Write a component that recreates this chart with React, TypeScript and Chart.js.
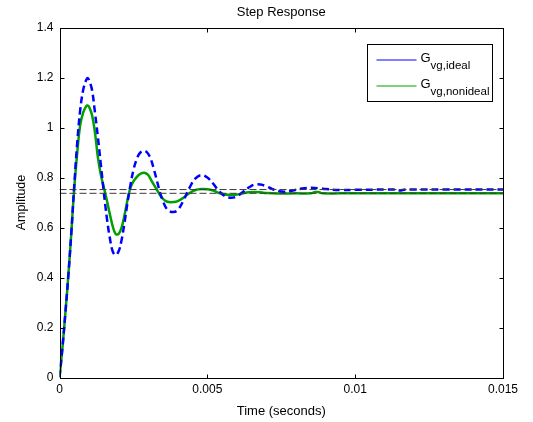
import { useEffect, useRef } from 'react';
import { Chart, registerables } from 'chart.js';

Chart.register(...registerables);

// Step response of G_vg (ideal), time in seconds
const timeIdeal = [
  0, 0.0001, 0.0002, 0.0003, 0.0004, 0.0005, 0.0006, 0.0007, 0.0008, 0.0009, 0.00095,
  0.001, 0.0011, 0.0012, 0.0013, 0.0014, 0.0015, 0.0016, 0.0017, 0.0018, 0.0019,
  0.002, 0.0021, 0.0022, 0.0023, 0.0024, 0.0025, 0.0026, 0.0027, 0.0028, 0.0029,
  0.003, 0.0031, 0.0032, 0.0033, 0.0034, 0.0035, 0.0036, 0.0037, 0.00385,
  0.004, 0.0042, 0.0044, 0.0046, 0.0048, 0.005, 0.0052, 0.0054, 0.0056, 0.0058,
  0.006, 0.0062, 0.0064, 0.0066, 0.0068, 0.007, 0.0072, 0.0074, 0.0076, 0.0078,
  0.008, 0.0082, 0.0085, 0.0088, 0.009, 0.0095, 0.01, 0.011, 0.0113, 0.0115, 0.0117,
  0.012, 0.013, 0.015,
];
const ampIdeal = [
  0, 0.12, 0.26, 0.41, 0.58, 0.77, 0.94, 1.07, 1.15, 1.19, 1.198,
  1.19, 1.15, 1.06, 0.96, 0.85, 0.74, 0.64, 0.56, 0.505, 0.49,
  0.505, 0.55, 0.62, 0.7, 0.77, 0.83, 0.87, 0.895, 0.905, 0.906,
  0.895, 0.87, 0.83, 0.785, 0.74, 0.705, 0.68, 0.667, 0.662,
  0.67, 0.71, 0.76, 0.797, 0.81, 0.8, 0.775, 0.745, 0.725, 0.719,
  0.725, 0.742, 0.76, 0.772, 0.772, 0.765, 0.754, 0.746, 0.743, 0.746,
  0.751, 0.756, 0.759, 0.757, 0.754, 0.75, 0.751, 0.752, 0.752, 0.748, 0.752,
  0.752, 0.752, 0.752,
];

// Step response of G_vg (nonideal)
const timeNonideal = [
  0, 0.0001, 0.0002, 0.0003, 0.0004, 0.0005, 0.0006, 0.0007, 0.0008, 0.0009, 0.00095,
  0.001, 0.0011, 0.0012, 0.0013, 0.0014, 0.0015, 0.0016, 0.0017, 0.0018, 0.0019,
  0.002, 0.0021, 0.0022, 0.0023, 0.0024, 0.0025, 0.0026, 0.0027, 0.0028, 0.0029,
  0.003, 0.0031, 0.0032, 0.0033, 0.0034, 0.0035, 0.0036, 0.0037, 0.00385,
  0.004, 0.0042, 0.0044, 0.0046, 0.0048, 0.005, 0.0052, 0.0054, 0.0056, 0.0058,
  0.006, 0.0062, 0.0064, 0.0066, 0.0068, 0.007, 0.0074, 0.008, 0.0085,
  0.00865, 0.00875, 0.0089, 0.0095, 0.015,
];
const ampNonideal = [
  0, 0.12, 0.26, 0.41, 0.58, 0.76, 0.9, 1.01, 1.06, 1.085, 1.088,
  1.083, 1.05, 0.98, 0.88, 0.81, 0.76, 0.71, 0.655, 0.605, 0.574,
  0.575, 0.6, 0.65, 0.71, 0.76, 0.785, 0.8, 0.812, 0.818, 0.818,
  0.81, 0.79, 0.77, 0.75, 0.73, 0.715, 0.706, 0.702, 0.702,
  0.706, 0.72, 0.738, 0.75, 0.754, 0.753, 0.748, 0.738, 0.732, 0.73,
  0.732, 0.737, 0.741, 0.742, 0.741, 0.738, 0.736, 0.737, 0.737,
  0.742, 0.742, 0.737, 0.737, 0.737,
];

// Final (steady-state) values, drawn as dashed reference lines
const finalIdeal = 0.752;
const finalNonideal = 0.737;

const xTicks = [0, 0.005, 0.01, 0.015];
const yTicks = [0, 0.2, 0.4, 0.6, 0.8, 1, 1.2, 1.4];
const legendMain = ['G', 'G'];
const legendSub = ['vg,ideal', 'vg,nonideal'];
const titleText = 'Step Response';
const xTitle = 'Time (seconds)';
const yTitle = 'Amplitude';

const BLUE = '#0000ff';
const GREEN = '#00a000';
const FONT = 'Arial, "Liberation Sans", Helvetica, sans-serif';

const framePlugin = {
  id: 'matlabFrame',
  afterDraw(chart: any) {
    const { ctx, chartArea: a, scales } = chart;
    const L = Math.round(a.left) + 0.5;
    const R = Math.round(a.right) + 0.5;
    const T = Math.round(a.top) + 0.5;
    const B = Math.round(a.bottom) + 0.5;
    ctx.save();
    ctx.strokeStyle = '#000';
    ctx.lineWidth = 1;
    ctx.setLineDash([]);
    ctx.strokeRect(L, T, R - L, B - T);
    ctx.beginPath();
    for (const v of xTicks) {
      const px = Math.round(scales.x.getPixelForValue(v)) + 0.5;
      ctx.moveTo(px, B); ctx.lineTo(px, B - 4);
      ctx.moveTo(px, T); ctx.lineTo(px, T + 4);
    }
    for (const v of yTicks) {
      const py = Math.round(scales.y.getPixelForValue(v)) + 0.5;
      ctx.moveTo(L, py); ctx.lineTo(L + 4, py);
      ctx.moveTo(R, py); ctx.lineTo(R - 4, py);
    }
    ctx.stroke();

    // legend
    const bw = 125;
    const bh = 57;
    const bx = Math.round(a.right - 11 - bw) + 0.5;
    const by = Math.round(a.top + 16.5) + 0.5;
    ctx.fillStyle = '#fff';
    ctx.fillRect(bx, by, bw, bh);
    ctx.strokeStyle = '#000';
    ctx.strokeRect(bx, by, bw, bh);
    const colors = [BLUE, GREEN];
    const rows = [15.5, 41.5];
    for (let i = 0; i < 2; i++) {
      const ly = by + rows[i];
      ctx.strokeStyle = colors[i];
      ctx.lineWidth = 1;
      ctx.beginPath();
      ctx.moveTo(bx + 9, ly);
      ctx.lineTo(bx + 49, ly);
      ctx.stroke();
      ctx.fillStyle = '#000';
      ctx.textBaseline = 'alphabetic';
      ctx.textAlign = 'left';
      ctx.font = `13px ${FONT}`;
      ctx.fillText(legendMain[i], bx + 53, ly + 2);
      const gw = ctx.measureText(legendMain[i]).width;
      ctx.font = `11.5px ${FONT}`;
      ctx.fillText(legendSub[i], bx + 53 + gw, ly + 9);
    }
    ctx.restore();
  },
};

export default function App() {
  const ref = useRef<HTMLCanvasElement | null>(null);

  useEffect(() => {
    document.body.style.margin = '0';
    const canvas = ref.current;
    if (!canvas) return;
    const pts = (xs: number[], ys: number[]) => xs.map((x, i) => ({ x, y: ys[i] }));
    const chart = new Chart(canvas, {
      type: 'line',
      data: {
        datasets: [
          {
            label: 'final ideal',
            data: [{ x: xTicks[0], y: finalIdeal }, { x: xTicks[xTicks.length - 1], y: finalIdeal }],
            borderColor: '#3a3a3a',
            borderWidth: 1,
            borderDash: [7, 3],
            pointRadius: 0,
            tension: 0,
          },
          {
            label: 'final nonideal',
            data: [{ x: xTicks[0], y: finalNonideal }, { x: xTicks[xTicks.length - 1], y: finalNonideal }],
            borderColor: '#3a3a3a',
            borderWidth: 1,
            borderDash: [7, 3],
            pointRadius: 0,
            tension: 0,
          },
          {
            label: 'G_vg,ideal',
            data: pts(timeIdeal, ampIdeal),
            borderColor: BLUE,
            borderWidth: 2.5,
            borderDash: [7, 4],
            pointRadius: 0,
            tension: 0.4,
          },
          {
            label: 'G_vg,nonideal',
            data: pts(timeNonideal, ampNonideal),
            borderColor: GREEN,
            borderWidth: 2.5,
            pointRadius: 0,
            tension: 0.4,
          },
        ],
      },
      options: {
        responsive: false,
        animation: false,
        devicePixelRatio: 1,
        layout: { padding: { top: 0, right: 30, bottom: 0, left: 0 } },
        plugins: {
          legend: { display: false },
          tooltip: { enabled: false },
          title: {
            display: true,
            text: titleText,
            fullSize: false,
            color: '#000',
            font: { family: FONT, size: 13, weight: 'normal' },
            padding: { top: 5, bottom: 7 },
          },
        },
        scales: {
          x: {
            type: 'linear',
            min: 0,
            max: 0.015,
            grid: { display: false, drawTicks: false, tickLength: 0 },
            border: { display: false },
            afterBuildTicks: (s: any) => { s.ticks = xTicks.map((v) => ({ value: v })); },
            afterFit: (s: any) => { s.height = 44.5; },
            ticks: {
              color: '#000',
              padding: 5,
              maxRotation: 0,
              font: { family: FONT, size: 12 },
              callback: (v: any) => String(Number(Number(v).toFixed(4))),
            },
            title: {
              display: true,
              text: xTitle,
              color: '#000',
              font: { family: FONT, size: 13 },
              padding: { top: 0, bottom: 2.6 },
            },
          },
          y: {
            type: 'linear',
            min: 0,
            max: 1.4,
            grid: { display: false, drawTicks: false, tickLength: 0 },
            border: { display: false },
            afterBuildTicks: (s: any) => { s.ticks = yTicks.map((v) => ({ value: v })); },
            afterFit: (s: any) => { s.width = 59.5; },
            ticks: {
              color: '#000',
              padding: 6,
              font: { family: FONT, size: 12 },
              callback: (v: any) => String(Number(Number(v).toFixed(3))),
            },
            title: {
              display: true,
              text: yTitle,
              color: '#000',
              font: { family: FONT, size: 12.5 },
              padding: { top: 14, bottom: 0 },
            },
          },
        },
      },
      plugins: [framePlugin],
    } as any);
    return () => chart.destroy();
  }, []);

  return (
    <div style={{ width: 533, height: 422, background: '#fff' }}>
      <canvas ref={ref} width={533} height={422} style={{ display: 'block' }} />
    </div>
  );
}
